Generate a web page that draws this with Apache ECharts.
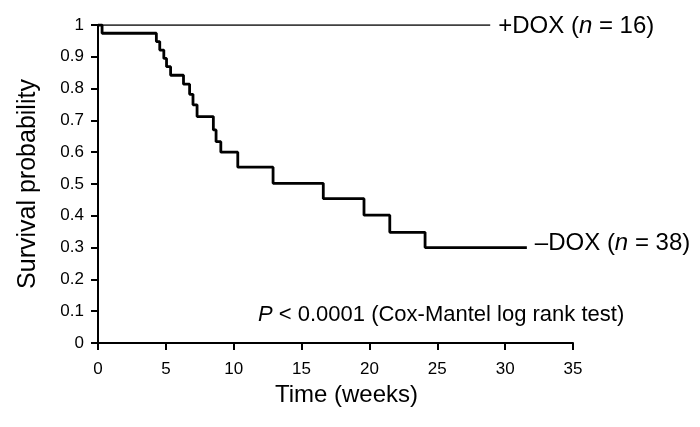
<!DOCTYPE html>
<html>
<head>
<meta charset="utf-8">
<script src="https://cdn.jsdelivr.net/npm/echarts@6/dist/echarts.min.js"></script>
<style>
    html, body { margin: 0; padding: 0; background: #fff; }
    #chart { width: 700px; height: 427px; }
</style>
</head>
<body>
<div id="chart"></div>
<script>
// Kaplan-Meier curves (time of each drop, survival after it)
const minusWeeks = [0, 0.3, 4.3, 4.55, 4.85, 5.05, 5.35, 6.3, 6.75, 7.0, 7.3, 8.5, 8.7, 9.05, 10.3, 12.9, 16.6, 19.6, 21.5, 24.1, 31.6];
const minusSurv = [1, 0.974, 0.948, 0.921, 0.895, 0.869, 0.842, 0.814, 0.782, 0.749, 0.712, 0.67, 0.633, 0.6, 0.553, 0.502, 0.454, 0.402, 0.348, 0.3, 0.3];
const plusWeeks = [0, 28.9];
const plusSurv = [1, 1];

const xTicks = [0, 5, 10, 15, 20, 25, 30, 35];
const yTicks = [0, 0.1, 0.2, 0.3, 0.4, 0.5, 0.6, 0.7, 0.8, 0.9, 1];

const plusLabel = '+DOX ({i|n} = 16)';
const minusLabel = '–DOX ({i|n} = 38)';
const pText = '{i|P} < 0.0001 (Cox-Mantel log rank test)';

const font = "'Liberation Sans', Arial, sans-serif";

function pairs(xs, ys) {
    return xs.map(function (x, i) { return [x, ys[i]]; });
}

function endLabel(text, dy) {
    return {
        show: true,
        formatter: text,
        distance: 8,
        offset: [0, dy],
        color: '#000',
        fontFamily: font,
        fontSize: 24,
        rich: {
            i: { fontStyle: 'italic', fontFamily: font, fontSize: 24, color: '#000' }
        }
    };
}

let chart = echarts.init(document.getElementById('chart'));

chart.setOption({
    backgroundColor: '#fff',
    animation: false,
    title: {
        text: pText,
        left: 253,
        top: 299,
        textStyle: {
            color: '#000',
            fontFamily: font,
            fontSize: 22,
            fontWeight: 'normal',
            rich: {
                i: { fontStyle: 'italic', fontFamily: font, fontSize: 22, color: '#000' }
            }
        }
    },
    grid: { left: 98, right: 127, top: 25, bottom: 84 },
    xAxis: {
        type: 'value',
        min: xTicks[0],
        max: xTicks[xTicks.length - 1],
        interval: 5,
        name: 'Time (weeks)',
        nameLocation: 'middle',
        nameGap: 40,
        nameTextStyle: { color: '#000', fontFamily: font, fontSize: 24, padding: [0, 0, 0, 22] },
        axisLine: { lineStyle: { color: '#000', width: 2 } },
        axisTick: { length: 7, lineStyle: { color: '#000', width: 2 } },
        axisLabel: { color: '#000', fontFamily: font, fontSize: 17, margin: 18 },
        splitLine: { show: false }
    },
    yAxis: {
        type: 'value',
        min: yTicks[0],
        max: yTicks[yTicks.length - 1],
        interval: 0.1,
        name: 'Survival probability',
        nameLocation: 'middle',
        nameGap: 57,
        nameTextStyle: { color: '#000', fontFamily: font, fontSize: 25 },
        axisLine: { show: true, lineStyle: { color: '#000', width: 2 } },
        axisTick: { show: true, length: 7, lineStyle: { color: '#000', width: 2 } },
        axisLabel: { color: '#000', fontFamily: font, fontSize: 17, margin: 14 },
        splitLine: { show: false }
    },
    series: [
        {
            name: '+DOX',
            type: 'line',
            step: 'end',
            symbol: 'none',
            data: pairs(plusWeeks, plusSurv),
            lineStyle: { color: '#000', width: 1.7 },
            endLabel: endLabel(plusLabel, 1)
        },
        {
            name: '-DOX',
            type: 'line',
            step: 'end',
            symbol: 'none',
            data: pairs(minusWeeks, minusSurv),
            lineStyle: { color: '#000', width: 2.8 },
            endLabel: endLabel(minusLabel, -4)
        }
    ]
});
</script>
</body>
</html>
